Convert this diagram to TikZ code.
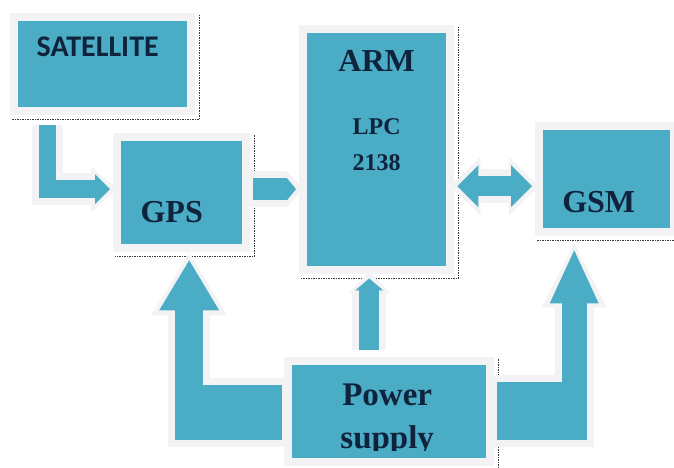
\documentclass[tikz,border=0pt]{standalone}
\usepackage{fontspec}
\setmainfont{Liberation Serif}
\newfontfamily\calibrifont{Carlito}
\usetikzlibrary{arrows.meta,calc}

\definecolor{boxblue}{HTML}{4BACC6}
\definecolor{haloc}{HTML}{F3F2F5}
\definecolor{txtc}{HTML}{10233C}
\definecolor{shadec}{HTML}{3A3A3A}

\tikzset{
  blk/.style={fill=boxblue, inner sep=0pt, anchor=north west, preaction={draw=haloc, line width=16pt}},
  dropline/.style={shadec, densely dotted, line width=1.5pt},
  lbl/.style={text=txtc, anchor=base, inner sep=0pt, font=\bfseries\fontsize{32}{34}\selectfont},
  flow/.style={draw=boxblue, line join=miter},
  glow/.style={draw=haloc, line join=miter},
}

\begin{document}
\begin{tikzpicture}[x=1pt,y=-1pt]
  \path[use as bounding box, fill=white] (0,0) rectangle (674,468);

  % blocks
  \node[blk, minimum width=169pt, minimum height=86pt] (sat) at (18,21) {};
  \node[blk, minimum width=121pt, minimum height=103pt] (gps) at (121,141) {};
  \node[blk, minimum width=139pt, minimum height=233pt] (arm) at (307,33) {};
  \node[blk, minimum width=127pt, minimum height=98pt] (gsm) at (543,130) {};
  \node[blk, minimum width=194pt, minimum height=93pt] (pwr) at (292,365) {};

  \foreach \b in {sat,gps,arm,gsm,pwr}
    \draw[dropline] ($(\b.north east)+(12,-6)$) |- ($(\b.south west)+(-6,12)$);

  % halos round the arrows
  \draw[glow, line width=31.5pt, -{Triangle[length=26pt,width=46pt,line width=0pt]}, shorten >=-7pt]
    ($(sat.south west)+(29.5,18)$) |- ($(gps.west)+(-11,-3.5)$);
  \draw[glow, line width=36pt, -{Triangle[length=16pt,width=36pt,line width=0pt]}, shorten >=-7pt, shorten <=-3pt]
    ($(gps.east)+(11,-3.5)$) -- ($(arm.west |- gps.east)+(-11,-3.5)$);
  \draw[glow, line width=34pt, {Triangle[length=30pt,width=58pt,line width=0pt]}-{Triangle[length=30pt,width=58pt,line width=0pt]}, shorten >=-7pt, shorten <=-7pt]
    ($(arm.east |- gsm.west)+(11,7)$) -- ($(gsm.west)+(-11,7)$);
  \draw[glow, line width=69pt, shorten >=-7pt, shorten <=-7pt]
    ($(pwr.west)+(-10,1)$) -- ($(gps.south |- pwr.west)+(-6.5,1)$);
  \draw[glow, line width=42pt, -{Triangle[length=62pt,width=76pt,line width=0pt]}, shorten >=-7pt, shorten <=-7pt]
    ($(gps.south |- pwr.west)+(7.5,28.5)$) -- ($(gps.south)+(7.5,16)$);
  \draw[glow, line width=34pt, -{Triangle[length=22pt,width=42pt,line width=0pt]}, shorten >=-7pt]
    ($(pwr.north)+(-20,-15)$) -- ($(arm.south)+(-7.5,12)$);
  \draw[glow, line width=72pt, shorten >=-7pt, shorten <=-7pt]
    ($(pwr.east)+(11,-0.5)$) -- ($(gsm.south |- pwr.east)+(-19.5,-0.5)$);
  \draw[glow, line width=39pt, -{Triangle[length=64pt,width=65pt,line width=0pt]}, shorten >=-7pt, shorten <=-7pt]
    ($(gsm.south |- pwr.east)+(-32.5,28.5)$) -- ($(gsm.south)+(-32.5,22)$);

  % arrows
  \draw[flow, line width=17.5pt, -{Triangle[length=15pt,width=30pt,line width=0pt]}]
    ($(sat.south west)+(29.5,18)$) |- ($(gps.west)+(-11,-3.5)$);
  \draw[flow, line width=22pt, -{Triangle[length=9pt,width=22pt,line width=0pt]}]
    ($(gps.east)+(11,-3.5)$) -- ($(arm.west |- gps.east)+(-11,-3.5)$);
  \draw[flow, line width=20pt, {Triangle[length=21pt,width=42pt,line width=0pt]}-{Triangle[length=21pt,width=42pt,line width=0pt]}]
    ($(arm.east |- gsm.west)+(11,7)$) -- ($(gsm.west)+(-11,7)$);
  \draw[flow, line width=55pt]
    ($(pwr.west)+(-10,1)$) -- ($(gps.south |- pwr.west)+(-6.5,1)$);
  \draw[flow, line width=28pt, -{Triangle[length=50pt,width=60pt,line width=0pt]}]
    ($(gps.south |- pwr.west)+(7.5,28.5)$) -- ($(gps.south)+(7.5,16)$);
  \draw[flow, line width=20pt, -{Triangle[length=12pt,width=28pt,line width=0pt]}]
    ($(pwr.north)+(-20,-15)$) -- ($(arm.south)+(-7.5,12)$);
  \draw[flow, line width=58pt]
    ($(pwr.east)+(11,-0.5)$) -- ($(gsm.south |- pwr.east)+(-19.5,-0.5)$);
  \draw[flow, line width=25pt, -{Triangle[length=53pt,width=49pt,line width=0pt]}]
    ($(gsm.south |- pwr.east)+(-32.5,28.5)$) -- ($(gsm.south)+(-32.5,22)$);

  % labels
  \node[lbl, font=\calibrifont\bfseries\fontsize{30}{32}\selectfont] (sattxt) at ($(sat.north)+(-5,36)$) {SATELLITE};
  \node[lbl] (gpstxt) at ($(gps.center)+(-10,30)$) {GPS};
  \node[lbl] (armtxt) at ($(arm.north)+(0,39)$) {ARM};
  \node[lbl, font=\bfseries\fontsize{24}{26}\selectfont] (lpctxt) at ($(arm.north)+(0,102)$) {LPC};
  \node[lbl, font=\bfseries\fontsize{24}{26}\selectfont] (numtxt) at ($(arm.north)+(0,137)$) {2138};
  \node[lbl] (gsmtxt) at ($(gsm.center)+(-8,33)$) {GSM};
  \begin{scope}
    \clip (pwr.north west) rectangle ($(pwr.south east)+(0,-8)$);
    \node[lbl, font=\bfseries\fontsize{33}{35}\selectfont] (pwrtxt) at ($(pwr.north)+(-2,40)$) {Power};
    \node[lbl, font=\bfseries\fontsize{33}{35}\selectfont] (suptxt) at ($(pwr.north)+(-2,83)$) {supply};
  \end{scope}
\end{tikzpicture}
\end{document}
